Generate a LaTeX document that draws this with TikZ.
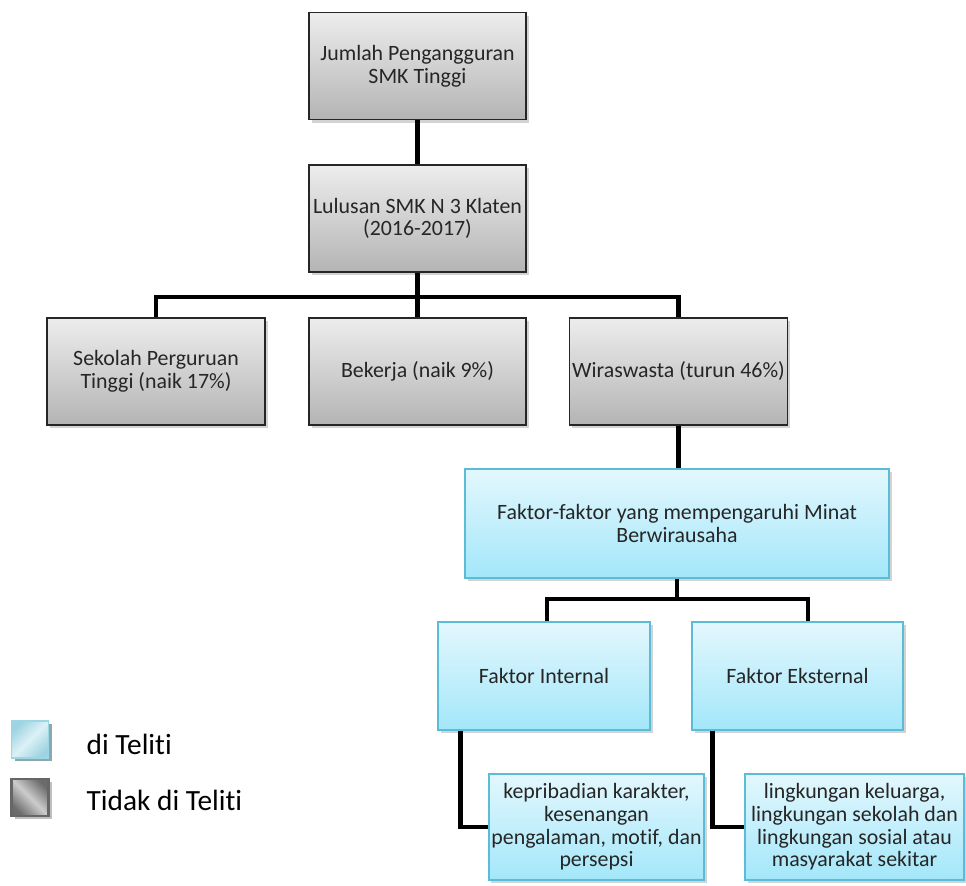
\documentclass[tikz,border=0pt]{standalone}
\usepackage{fontspec}
\setmainfont{Carlito}[Ligatures={NoCommon}]
\usetikzlibrary{shadows,calc}
\definecolor{gtop}{HTML}{EDEDED}
\definecolor{gbot}{HTML}{B4B4B4}
\definecolor{btop}{HTML}{E3F7FD}
\definecolor{bbot}{HTML}{A3E7FA}
\definecolor{bline}{HTML}{5BBCD6}
\definecolor{txt}{HTML}{262626}
\definecolor{lgbord}{HTML}{9AD8E6}
\definecolor{lgshad}{HTML}{8EA7AE}
\definecolor{lbedge}{HTML}{9ED4E2}
\definecolor{lbmid}{HTML}{DCF1F6}
\begin{document}
\begin{tikzpicture}[x=0.75pt,y=-0.75pt,
  box/.style={rectangle, inner sep=2pt, align=center,
    font=\fontsize{16.4}{17}\selectfont, text=txt,
    drop shadow={shadow xshift=2pt, shadow yshift=-2.5pt, opacity=0.35}},
  graybox/.style={box, draw=black!85, line width=1.4pt, top color=gtop, bottom color=gbot,
    minimum width=217*0.75pt, minimum height=107*0.75pt},
  bluebox/.style={box, draw=bline, line width=1.1pt, top color=btop, bottom color=bbot},
  conn/.style={line width=3.6pt, black},
  legsq/.style={rectangle, minimum size=37*0.75pt, inner sep=0pt, line width=1.2pt},
  legtxt/.style={anchor=base west, font=\fontsize{22}{24}\selectfont, text=black}]
\useasboundingbox (0,0) rectangle (966,885);

% top chain
\node[graybox] (n1) at (417.5,66) {Jumlah Pengangguran\\SMK Tinggi};
\node[graybox] (n2) at (417.5,218.5) {Lulusan SMK N 3 Klaten\\(2016-2017)};
\node[graybox, minimum width=218*0.75pt] (b1) at (156,371.5) {Sekolah Perguruan\\Tinggi (naik 17\%)};
\node[graybox] (b2) at (417.5,371.5) {Bekerja (naik 9\%)};
\node[graybox] (b3) at (678.5,371.5) {Wiraswasta (turun 46\%)};

% blue boxes
\node[bluebox, minimum width=424*0.75pt, minimum height=109*0.75pt] (f) at (677,523.5)
  {Faktor-faktor yang mempengaruhi Minat\\Berwirausaha};
\node[bluebox, minimum width=212*0.75pt, minimum height=108*0.75pt] (fi) at (544,676) {Faktor Internal};
\node[bluebox, minimum width=211*0.75pt, minimum height=108*0.75pt] (fe) at (797.5,676) {Faktor Eksternal};
\node[bluebox, minimum width=211*0.75pt, minimum height=106*0.75pt] (k) at (596.5,827)
  {kepribadian karakter,\\kesenangan\\pengalaman, motif, dan\\persepsi};
\node[bluebox, minimum width=219*0.75pt, minimum height=106*0.75pt] (l) at (854.5,827)
  {lingkungan keluarga,\\lingkungan sekolah dan\\lingkungan sosial atau\\masyarakat sekitar};

% connectors
\coordinate (bus1) at (417.5,297);
\coordinate (bus2) at (677,599);
\coordinate (bl) at (547,599);
\coordinate (br) at (808,599);
\draw[conn] (n1.south) -- (n2.north);
\draw[conn] (n2.south) -- (b2.north);
\draw[conn] (b1.north) |- (bus1) -| (b3.north);
\draw[conn] (b3.south) -- (b3.south |- f.north);
\draw[conn] (f.south) -- (bus2);
\draw[conn] (bl |- fi.north) -- (bl) -- (br) -- (br |- fe.north);
\draw[conn] ($(fi.south west)+(23,0)$) |- (k.west);
\draw[conn] ($(fe.south west)+(21,0)$) |- (l.west);

% legend
\node[legsq, draw=lgbord, top color=lbedge, bottom color=lbedge, middle color=lbmid, shading angle=45,
  drop shadow={shadow xshift=2.5pt, shadow yshift=-2.5pt, fill=lgshad, opacity=1}] (lq1) at (30,739.5) {};
\node[legsq, draw=black!60, line width=1.6pt, top color=black!58, bottom color=black!58, middle color=black!20, shading angle=-45,
  drop shadow={shadow xshift=2.5pt, shadow yshift=-2.5pt, fill=black!25, opacity=1}] (lq2) at (30,797.5) {};
\node[legtxt] (lt1) at (82,754) {di Teliti};
\node[legtxt] (lt2) at (82,810) {Tidak di Teliti};
\end{tikzpicture}
\end{document}
